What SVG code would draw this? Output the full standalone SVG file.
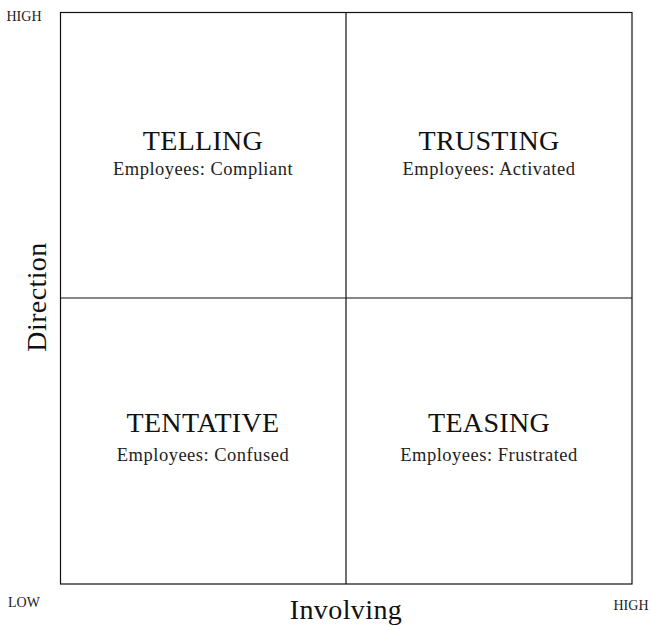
<svg xmlns="http://www.w3.org/2000/svg" width="651" height="626" viewBox="0 0 651 626">
<style>
text{font-family:"Liberation Serif","DejaVu Serif",serif;fill:#111;text-anchor:middle}
.t{font-size:28px;letter-spacing:0.3px}
.s{font-size:18.5px;letter-spacing:0.5px;fill:#222}
.ax{font-size:28px;letter-spacing:0.4px}
.c{font-size:14px;fill:#222}
.ln{stroke:#111;stroke-width:1.2;fill:none}
</style>
<rect width="651" height="626" fill="#fff"/>
<g id="grid">
<rect class="ln" x="60.5" y="12.5" width="571.5" height="571.5"/>
</g>
<g id="connectors">
<line class="ln" x1="346" y1="12.5" x2="346" y2="584"/>
<line class="ln" x1="60.5" y1="298" x2="632" y2="298"/>
</g>
<g id="telling"><text class="t" x="203" y="150">TELLING</text><text class="s" x="203" y="175">Employees: Compliant</text></g>
<g id="trusting"><text class="t" x="489" y="150">TRUSTING</text><text class="s" x="489" y="175">Employees: Activated</text></g>
<g id="tentative"><text class="t" x="203" y="432">TENTATIVE</text><text class="s" x="203" y="461">Employees: Confused</text></g>
<g id="teasing"><text class="t" x="489" y="432">TEASING</text><text class="s" x="489" y="461">Employees: Frustrated</text></g>
<g id="labels">
<text class="c" x="24" y="21">HIGH</text>
<text class="c" x="24" y="607">LOW</text>
<text class="c" x="631" y="610">HIGH</text>
<text class="ax" transform="translate(46,297) rotate(-90)">Direction</text>
<text class="ax" x="346" y="619">Involving</text>
</g>
</svg>
